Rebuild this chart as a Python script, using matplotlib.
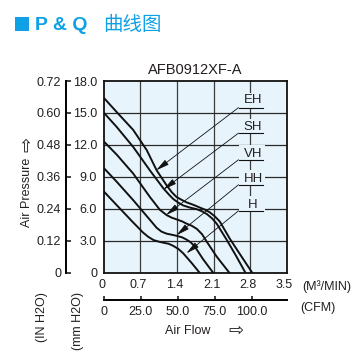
"""P & Q curve chart for the AFB0912XF-A fan."""

import matplotlib

matplotlib.use("Agg")
from matplotlib import pyplot as plt  # noqa: E402
from matplotlib.patches import Rectangle  # noqa: E402
from matplotlib.transforms import ScaledTranslation  # noqa: E402

# axis ticks
FLOW_TICKS = [0, 0.7, 1.4, 2.1, 2.8, 3.5]
FLOW_LABELS = ["0", "0.7", "1.4", "2.1", "2.8", "3.5"]
MM_TICKS = [0, 3.0, 6.0, 9.0, 12.0, 15.0, 18.0]
MM_LABELS = ["0", "3.0", "6.0", "9.0", "12.0", "15.0", "18.0"]
IN_TICKS = [0, 0.12, 0.24, 0.36, 0.48, 0.60, 0.72]
IN_LABELS = ["0", "0.12", "0.24", "0.36", "0.48", "0.60", "0.72"]
CFM_TICKS = [0, 25.0, 50.0, 75.0, 100.0]
CFM_LABELS = ["0", "25.0", "50.0", "75.0", "100.0"]
M3MIN_TO_CFM = 35.3147

# P-Q curves, flow in m3/min, pressure in mmH2O
EH_FLOW = [0, 0.24, 0.56, 0.82, 1.01, 1.20, 1.30, 1.39, 1.50, 1.58, 1.72, 1.84, 1.94, 2.03, 2.12, 2.22, 2.41, 2.61, 2.84]
EH_PRESSURE = [16.4, 15.1, 13.4, 11.5, 9.6, 8.2, 7.55, 7.1, 6.8, 6.6, 6.35, 6.1, 5.9, 5.65, 5.3, 4.8, 3.2, 1.7, 0]
SH_FLOW = [0, 0.24, 0.56, 0.88, 1.14, 1.25, 1.33, 1.43, 1.52, 1.65, 1.78, 1.88, 1.97, 2.07, 2.16, 2.35, 2.54, 2.71]
SH_PRESSURE = [15.0, 13.7, 11.8, 9.6, 7.9, 7.3, 6.9, 6.55, 6.3, 6.1, 5.95, 5.75, 5.5, 5.1, 4.6, 3.1, 1.5, 0]
VH_FLOW = [0, 0.24, 0.56, 0.88, 1.07, 1.20, 1.30, 1.39, 1.50, 1.58, 1.68, 1.78, 1.88, 1.97, 2.16, 2.40]
VH_PRESSURE = [12.3, 11.1, 9.3, 7.1, 5.9, 5.4, 5.15, 5.0, 4.8, 4.6, 4.4, 4.1, 3.6, 2.9, 1.5, 0]
HH_FLOW = [0, 0.24, 0.56, 0.82, 1.01, 1.10, 1.20, 1.30, 1.39, 1.50, 1.58, 1.66, 1.74, 1.90, 2.09]
HH_PRESSURE = [9.8, 8.55, 6.8, 5.3, 4.2, 3.85, 3.65, 3.55, 3.45, 3.3, 3.1, 2.85, 2.45, 1.25, 0]
H_FLOW = [0, 0.24, 0.56, 0.75, 0.85, 0.95, 1.05, 1.14, 1.24, 1.33, 1.43, 1.52, 1.68, 1.83]
H_PRESSURE = [7.6, 6.35, 4.7, 3.75, 3.35, 3.05, 2.9, 2.8, 2.7, 2.5, 2.2, 1.8, 0.9, 0]

CURVE_NAMES = ["EH", "SH", "VH", "HH", "H"]
CURVE_FLOWS = [EH_FLOW, SH_FLOW, VH_FLOW, HH_FLOW, H_FLOW]
CURVE_PRESSURES = [EH_PRESSURE, SH_PRESSURE, VH_PRESSURE, HH_PRESSURE, H_PRESSURE]
ARROW_TIP_FLOW = [1.00, 1.14, 1.19, 1.39, 1.58]
ARROW_TIP_PRESSURE = [9.6, 7.8, 5.4, 3.5, 1.8]
LABEL_PRESSURE = [16.2, 13.7, 11.15, 8.8, 6.35]
UNDERLINE_PRESSURE = [15.5, 13.1, 10.6, 8.25, 5.8]

W, H = 360, 357
TEXT = "#231f20"
BLUE = "#0fa0e6"
BG = "#e7f4fc"
FONT = ["Liberation Sans", "DejaVu Sans"]

plt.rcParams["font.family"] = FONT


def fx(px):
    return px / W


def fy(py):
    return 1 - py / H


fig = plt.figure(figsize=(W / 100, H / 100), dpi=100)

# header
fig.patches.append(Rectangle((fx(15), fy(31)), 14 / W, 14 / H, transform=fig.transFigure,
                             facecolor=BLUE, edgecolor="none"))
fig.text(fx(35), fy(25), "P & Q", color=BLUE, fontsize=14, fontweight="bold", va="center", ha="left")
fig.text(fx(103), fy(25), "曲线图", color=BLUE, fontsize=14, va="center", ha="left",
         family=["Noto Sans CJK SC", "DejaVu Sans"])

# main plot box
left, right, top, bottom = 104, 286.5, 81, 272.5
ax = fig.add_axes([fx(left), fy(bottom), (right - left) / W, (bottom - top) / H])
ax.set_facecolor(BG)
ax.set_xlim(0, 3.5)
ax.set_ylim(0, 18.0)
for spine in ax.spines.values():
    spine.set_linewidth(1.3)
    spine.set_color("#111111")
    spine.set_zorder(6)

ax.set_xticks(FLOW_TICKS, FLOW_LABELS)
ax.set_yticks(MM_TICKS, MM_LABELS)
ax.tick_params(axis="x", length=0, pad=4.5, labelsize=9, colors=TEXT)
ax.tick_params(axis="y", length=0, pad=5, labelsize=9, colors=TEXT)
for label in ax.get_xticklabels():
    label.set_transform(label.get_transform() + ScaledTranslation(-2 / 100, 0, fig.dpi_scale_trans))

for value in FLOW_TICKS[1:-1]:
    ax.axvline(value, color="#3c3c3c", lw=0.9, zorder=1)
for value in MM_TICKS[1:-1]:
    ax.axhline(value, color="#2a2a2a", lw=0.9, zorder=1)

# label boxes cover the grid behind the curve names
for name, label_p, line_p, tip_x, tip_p in zip(
    CURVE_NAMES, LABEL_PRESSURE, UNDERLINE_PRESSURE, ARROW_TIP_FLOW, ARROW_TIP_PRESSURE
):
    ax.add_patch(Rectangle((2.58, line_p), 0.5, 1.35, facecolor=BG, edgecolor="none", zorder=2))
    ax.text(2.86, label_p, name, ha="center", va="center", fontsize=9.5, color=TEXT, zorder=4)
    ax.plot([2.58, 3.05], [line_p, line_p], color="#111111", lw=0.8, zorder=4)
    ax.annotate(
        "",
        xy=(tip_x, tip_p),
        xytext=(2.58, line_p),
        arrowprops=dict(arrowstyle="-|>,head_length=0.8,head_width=0.18", lw=0.6, color="#111111",
                        shrinkA=0, shrinkB=0, mutation_scale=10),
        zorder=4,
    )

for flows, pressures in zip(CURVE_FLOWS, CURVE_PRESSURES):
    ax.plot(flows, pressures, color="#111111", lw=1.4, solid_joinstyle="round", zorder=3)

ax.set_title("AFB0912XF-A", fontsize=10.5, color=TEXT, pad=5)

# inch H2O axis
ax_in = fig.add_axes([fx(66), fy(bottom), 0.001, (bottom - top) / H])
ax_in.set_ylim(0, 0.72)
ax_in.patch.set_visible(False)
for side in ("top", "right", "bottom"):
    ax_in.spines[side].set_visible(False)
ax_in.spines["left"].set_linewidth(1.4)
ax_in.set_xticks([])
ax_in.set_yticks(IN_TICKS, IN_LABELS)
ax_in.tick_params(axis="y", direction="in", length=3.5, width=1.2, pad=3.5, labelsize=9, colors=TEXT)

# CFM axis
ax_cfm = fig.add_axes([fx(left), fy(300), (right - left) / W, 0.001])
ax_cfm.set_xlim(0, 3.5 * M3MIN_TO_CFM)
ax_cfm.patch.set_visible(False)
for side in ("top", "right", "left"):
    ax_cfm.spines[side].set_visible(False)
ax_cfm.spines["bottom"].set_linewidth(1.4)
ax_cfm.set_yticks([])
ax_cfm.set_xticks(CFM_TICKS, CFM_LABELS)
ax_cfm.tick_params(axis="x", direction="in", length=3, width=1.2, pad=4.5, labelsize=9, colors=TEXT)

# unit and axis titles
fig.text(fx(302), fy(287), "(M³/MIN)", fontsize=9, color=TEXT, ha="left", va="center")
fig.text(fx(300), fy(308), "(CFM)", fontsize=9, color=TEXT, ha="left", va="center")
fig.text(fx(188), fy(331), "Air Flow", fontsize=9, color=TEXT, ha="center", va="center")
fig.text(fx(236), fy(331), "⇨", fontsize=13, color=TEXT, ha="center", va="center",
         family=["DejaVu Sans"])
fig.text(fx(27), fy(192), "Air Pressure", fontsize=9, color=TEXT, ha="center", va="center",
         rotation=90)
fig.text(fx(27), fy(144), "⇨", fontsize=13, color=TEXT, ha="center", va="center", rotation=90,
         family=["DejaVu Sans"])
fig.text(fx(42), fy(292), "(IN H2O)", fontsize=9, color=TEXT, ha="center", va="top", rotation=90)
fig.text(fx(78), fy(292), "(mm H2O)", fontsize=9, color=TEXT, ha="center", va="top", rotation=90)

fig.savefig("out.png", dpi=100)
